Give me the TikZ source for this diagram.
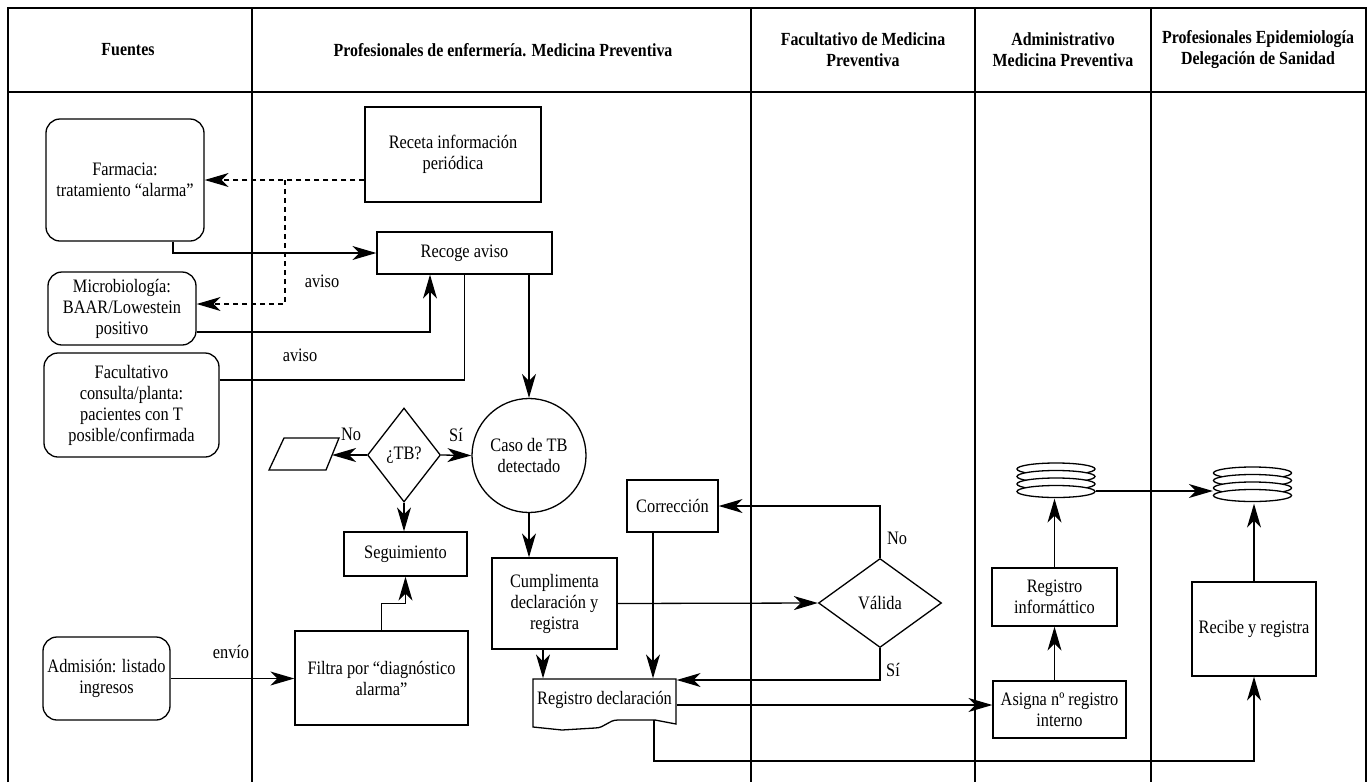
\documentclass[tikz,border=0pt]{standalone}
\usepackage{fontspec}
\setmainfont{Liberation Serif}[FakeStretch=0.86]
\usetikzlibrary{arrows.meta,shapes.geometric,calc}

\begin{document}
\begin{tikzpicture}[x=1pt,y=-1pt,
  line width=1.3pt,
  every node/.style={font=\fontsize{19}{21}\selectfont, align=center, inner sep=0pt},
  lane/.style={line width=1.6pt},
  head/.style={font=\fontsize{18.5}{21}\selectfont\bfseries},
  sz/.style 2 args={minimum width=#1pt, minimum height=#2pt},
  box/.style={draw, rectangle},
  rbox/.style={draw, rectangle, rounded corners=14pt},
  diam/.style={draw, diamond},
  arr/.style={-{Stealth[length=24pt,width=14pt,inset=7pt]}},
  dsh/.style={dash pattern=on 5pt off 4pt},
]
\useasboundingbox (0,0) rectangle (1368,782);

% swimlanes
\draw[lane] (8,782) -- (8,8) -- (1366,8) -- (1366,782);
\draw[lane] (8,92) -- (1366,92);
\foreach \x in {252,751,975,1151} \draw[lane] (\x,8) -- (\x,782);

% lane headings
\node[head] (h1) at (128,50) {Fuentes};
\node[head] (h2) at (503,50) {Profesionales de enfermería. Medicina Preventiva};
\node[head] (h3) at (863,50) {Facultativo de Medicina\\Preventiva};
\node[head] (h4) at (1063,50) {Administrativo\\Medicina Preventiva};
\node[head] (h5) at (1258,50) {Profesionales Epidemiología\\Delegación de Sanidad};

% sources
\node[rbox, sz={158}{122}] (farm) at (125,180) {Farmacia:\\tratamiento “alarma”};
\node[rbox, sz={148}{73}] (micro) at (122,308.5) {Microbiología:\\BAAR/Lowestein\\positivo};
\node[rbox, sz={175}{104}] (facul) at (131.5,405) {Facultativo\\consulta/planta:\\pacientes con T\\posible/confirmada};
\node[rbox, sz={127}{83}] (adm) at (106.5,678.5) {Admisión: listado\\ingresos};

% nursing lane
\node[box, sz={176}{95}] (receta) at (453,154.5) {Receta información\\periódica};
\node[box, sz={175}{42}] (recoge) at (464.5,253) {Recoge aviso};
\node[diam, sz={73}{94}] (tb) at (404,455) {¿TB?};
\node[circle, draw, minimum size=114pt] (caso) at (529,455.5) {Caso de TB\\detectado};
\node[box, sz={123}{44}] (seg) at (405.5,554) {Seguimiento};
\node[box, sz={173}{94}] (filtra) at (381.5,678) {Filtra por “diagnóstico\\alarma”};
\node[box, sz={125}{91}] (cumpl) at (554.5,603.5) {Cumplimenta\\declaración y\\registra};
\node[box, sz={91}{52}] (corr) at (672.5,506) {Corrección};
\node[sz={143}{41}] (regdecl) at (604.5,699.5) {Registro declaración};

% document outline of the declaration register
\draw (533,679) -- (676,679) -- (676,724) -- (655,720) -- (618,720)
  .. controls (608,720) and (605,728) .. (595,728) -- (562,730) -- (533,727) -- cycle;
\coordinate (rdbot) at (654,720);

% output parallelogram of the TB decision
\draw (284,438) -- (339,438) -- (326,470) -- (269,470) -- cycle;
\coordinate (io) at (332,455);

% physician lane
\node[diam, sz={123}{89}] (valida) at (880,603) {Válida};

% administrative lane
\node[box, sz={125}{58}] (reginf) at (1054.5,597) {Registro\\informáttico};
\node[box, sz={133}{57}] (asigna) at (1059.5,709.5) {Asigna nº registro\\interno};
\node[sz={78}{35}] (st1) at (1056,480.5) {};
\foreach \dy in {-11.5,-4,3.5,11}
  \draw[fill=white] ($(st1)+(0,\dy)$) ellipse [x radius=39pt, y radius=6pt];

% epidemiology lane
\node[box, sz={124}{94}] (recibe) at (1254,629) {Recibe y registra};
\node[sz={78}{36}] (st2) at (1252.5,485) {};
\foreach \dy in {-12,-4.5,3,10.5}
  \draw[fill=white] ($(st2)+(0,\dy)$) ellipse [x radius=39pt, y radius=6pt];

% dashed periodic information
\coordinate (split) at (285,180);
\draw[arr, dsh] (receta.west |- split) -- (farm.east |- split);
\draw[arr, dsh] (split) -- (split |- 0,304) -- (micro.east |- 0,304);

% notices
\draw[arr] (farm.south -| 173,0) |- (recoge.west);
\draw[arr] (micro.east |- 0,332) -| (recoge.south -| 430,0);
\draw (facul.east |- 0,380) -| (recoge.south);
\draw[arr] (recoge.south -| caso.north) -- (caso.north);

% TB decision
\draw[arr] (tb.west) -- (io);
\draw[arr] (tb.east) -- (caso.west);
\draw[arr] (tb.south) -- (tb.south |- seg.north);
\draw[arr] (filtra.north) -- ++(0,-27) -| (seg.south);
\draw[arr] (adm.east) -- (filtra.west |- adm.east);

% declaration
\draw[arr] (caso.south) -- (caso.south |- cumpl.north);
\draw[arr] (cumpl.south -| 543,0) -- (regdecl.north -| 543,0);
\draw[arr] (corr.south -| 653,0) -- (regdecl.north -| 653,0);
\draw[arr] (cumpl.east) -- (valida.west);
\draw[arr] (valida.north) |- (corr.east);
\draw[arr] (valida.south) |- (regdecl.east |- 0,680);
\draw[arr] (regdecl.east |- 0,705) -- (asigna.west |- 0,705);
\draw[arr] (rdbot) -- (rdbot |- 0,761) -| (recibe.south);

% registration
\draw[arr] (reginf.south |- asigna.north) -- (reginf.south);
\draw[arr] (reginf.north) -- (reginf.north |- st1.south);
\draw[arr] (recibe.north) -- (recibe.north |- st2.south);
\draw[arr] (st1.east |- 0,491) -- (st2.west |- 0,491);

% connector labels
\node (l1) at (322,281) {aviso};
\node (l2) at (300,355) {aviso};
\node (l3) at (231,652) {envío};
\node (l4) at (351,434) {No};
\node (l5) at (456,435) {Sí};
\node (l6) at (897,538) {No};
\node (l7) at (893,670) {Sí};
\end{tikzpicture}
\end{document}
